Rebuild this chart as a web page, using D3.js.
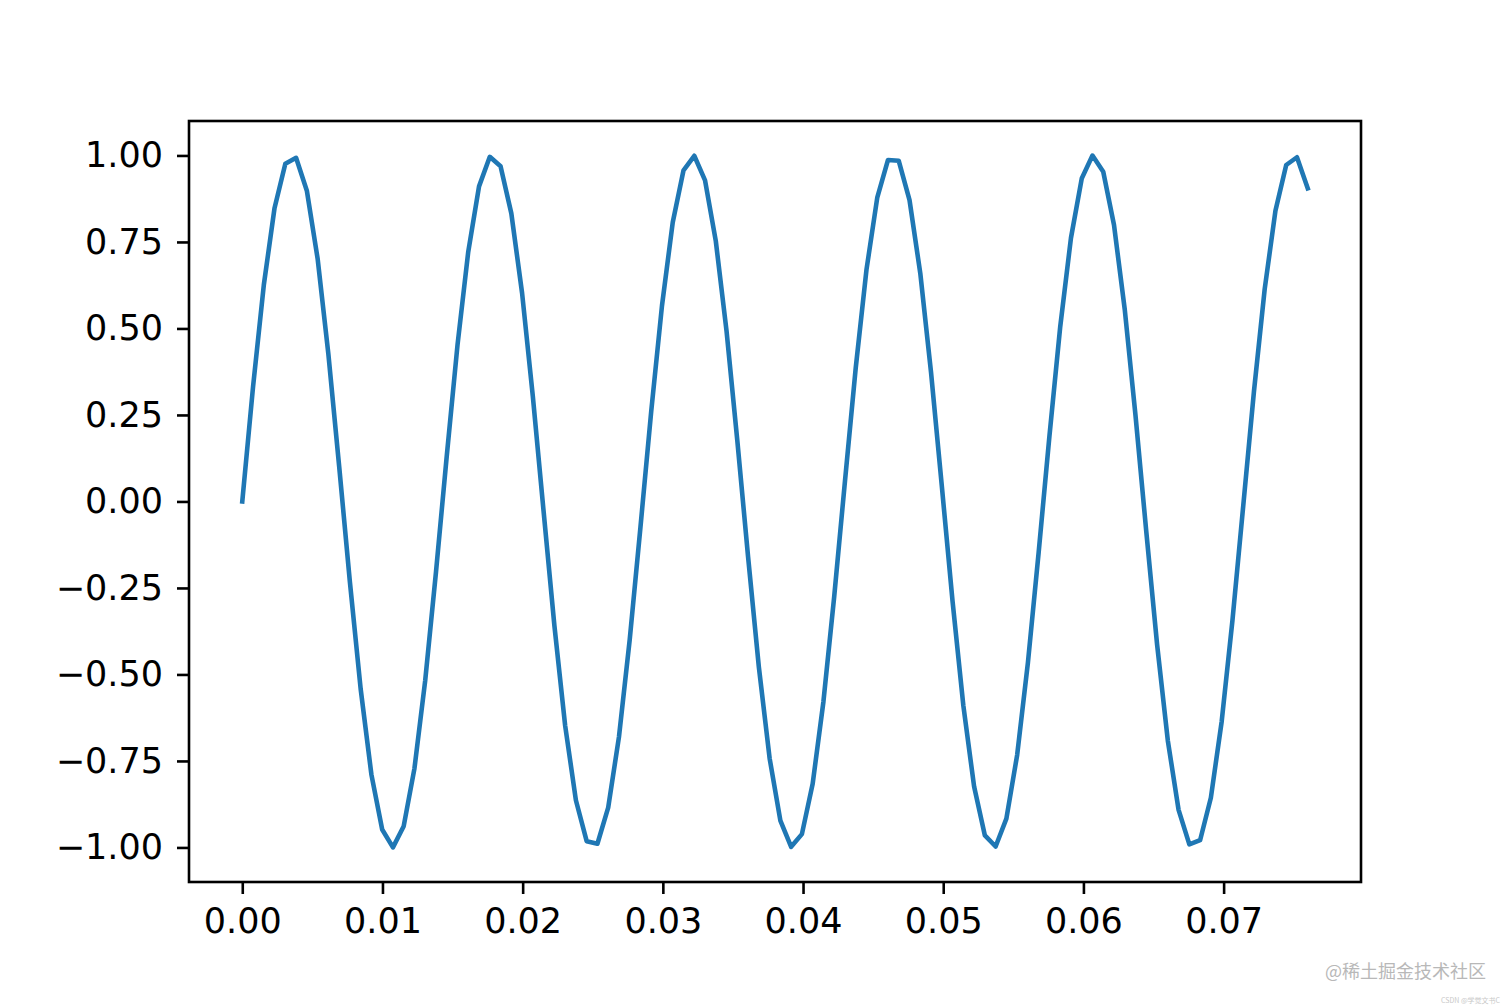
<!DOCTYPE html>
<html><head><meta charset="utf-8">
<script src="https://cdn.jsdelivr.net/npm/d3@7"></script>
<style>html,body{margin:0;padding:0;background:#fff;}svg{display:block;}</style>
</head><body>
<svg id="c" width="1512" height="1008"></svg>
<script>
const times = [0,0.000768,0.001535,0.002303,0.003071,0.003838,0.004606,0.005374,0.006141,0.006909,
0.007677,0.008444,0.009212,0.009980,0.010747,0.011515,0.012283,0.013051,0.013818,0.014586,
0.015354,0.016121,0.016889,0.017657,0.018424,0.019192,0.019960,0.020727,0.021495,0.022263,
0.023030,0.023798,0.024566,0.025333,0.026101,0.026869,0.027636,0.028404,0.029172,0.029939,
0.030707,0.031475,0.032242,0.033010,0.033778,0.034545,0.035313,0.036081,0.036848,0.037616,
0.038384,0.039152,0.039919,0.040687,0.041455,0.042222,0.042990,0.043758,0.044525,0.045293,
0.046061,0.046828,0.047596,0.048364,0.049131,0.049899,0.050667,0.051434,0.052202,0.052970,
0.053737,0.054505,0.055273,0.056040,0.056808,0.057576,0.058343,0.059111,0.059879,0.060646,
0.061414,0.062182,0.062949,0.063717,0.064485,0.065253,0.066020,0.066788,0.067556,0.068323,
0.069091,0.069859,0.070626,0.071394,0.072162,0.072929,0.073697,0.074465,0.075232,0.076];
const signal = [0,0.3312,0.6251,0.8483,0.9759,0.9931,0.8982,0.7019,0.4263,0.1026,
-0.2327,-0.5417,-0.7896,-0.9483,-0.9999,-0.9386,-0.7713,-0.5169,-0.2042,0.1316,
0.4526,0.7224,0.9107,0.9961,0.9690,0.8326,0.6021,0.3036,-0.0292,-0.3587,
-0.6476,-0.8635,-0.9818,-0.9893,-0.8850,-0.6808,-0.3998,-0.0736,0.2610,0.5660,
0.8071,0.9571,0.9990,0.9281,0.7524,0.4917,0.1755,-0.1605,-0.4785,-0.7423,
-0.9224,-0.9983,-0.9615,-0.8160,-0.5785,-0.2756,0.0584,0.3858,0.6696,0.8778,
0.9869,0.9846,0.8711,0.6592,0.3728,0.0444,-0.2890,-0.5899,-0.8240,-0.9652,
-0.9973,-0.9169,-0.7329,-0.4661,-0.1467,0.1893,0.5039,0.7615,0.9332,0.9996,
0.9530,0.7988,0.5544,0.2475,-0.0875,-0.4125,-0.6911,-0.8914,-0.9912,-0.9791,
-0.8564,-0.6370,-0.3456,-0.0152,0.3169,0.6132,0.8403,0.9724,0.9948,0.9048];
const xTicks = [0,0.01,0.02,0.03,0.04,0.05,0.06,0.07];
const yTicks = [-1,-0.75,-0.5,-0.25,0,0.25,0.5,0.75,1];

const svg = d3.select('#c');
const L = 189, R = 1361, T = 121, B = 882;
const xMin = d3.min(times), xMax = d3.max(times);
const xPad = (xMax - xMin) * 0.05;
const yMin = d3.min(signal), yMax = d3.max(signal);
const yPad = (yMax - yMin) * 0.05;
const x = d3.scaleLinear().domain([xMin - xPad, xMax + xPad]).range([L, R]);
const y = d3.scaleLinear().domain([yMin - yPad, yMax + yPad]).range([B, T]);

const font = "'DejaVu Sans', sans-serif";
const fmt = v => d3.format('.2f')(v).replace('-', '\u2212');

const line = d3.line().x((d, i) => x(times[i])).y(d => y(d));
svg.append('path').datum(signal)
  .attr('d', line).attr('fill', 'none')
  .attr('stroke', '#1f77b4').attr('stroke-width', 4.6)
  .attr('stroke-linejoin', 'round').attr('stroke-linecap', 'square');

const xAxis = d3.axisBottom(x).tickValues(xTicks).tickFormat(fmt).tickSize(12).tickPadding(14).tickSizeOuter(0);
const gx = svg.append('g').attr('transform', `translate(0,${B})`).call(xAxis);
const yAxis = d3.axisLeft(y).tickValues(yTicks).tickFormat(fmt).tickSize(12).tickPadding(14).tickSizeOuter(0);
const gy = svg.append('g').attr('transform', `translate(${L},0)`).call(yAxis);
[gx, gy].forEach(g => {
  g.select('.domain').remove();
  g.selectAll('.tick line').attr('stroke', '#000').attr('stroke-width', 2.6);
  g.selectAll('.tick text').attr('fill', '#000').style('font-family', font).style('font-size', '35px');
});

svg.append('rect').attr('x', L).attr('y', T).attr('width', R - L).attr('height', B - T)
  .attr('fill', 'none').attr('stroke', '#000').attr('stroke-width', 2.6);

svg.append('text').attr('x', 1486).attr('y', 978).attr('text-anchor', 'end')
  .attr('fill', '#b8b8b8').style('font-family', "'Noto Sans CJK SC', sans-serif").style('font-size', '18px')
  .text('@稀土掘金技术社区');
svg.append('text').attr('x', 1500).attr('y', 1003).attr('text-anchor', 'end')
  .attr('fill', '#c8c8c8').style('font-family', "'Noto Sans CJK SC', sans-serif").style('font-size', '7px')
  .text('CSDN @学觉文书C');
</script>
</body></html>
